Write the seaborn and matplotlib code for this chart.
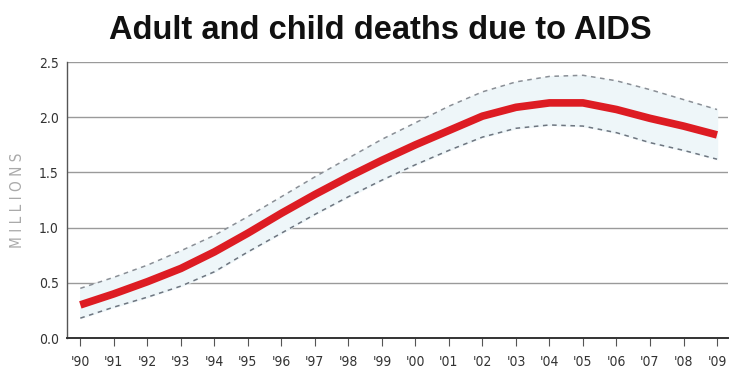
import matplotlib
matplotlib.use("Agg")
import matplotlib.pyplot as plt
import seaborn as sns
import pandas as pd
import numpy as np

years = ["'90", "'91", "'92", "'93", "'94", "'95", "'96", "'97", "'98", "'99",
         "'00", "'01", "'02", "'03", "'04", "'05", "'06", "'07", "'08", "'09"]
deaths = [0.30, 0.40, 0.51, 0.63, 0.78, 0.95, 1.13, 1.30, 1.46, 1.61,
          1.75, 1.88, 2.01, 2.09, 2.13, 2.13, 2.07, 1.99, 1.92, 1.84]
upper = [0.45, 0.55, 0.66, 0.79, 0.93, 1.10, 1.28, 1.46, 1.63, 1.80,
         1.95, 2.10, 2.23, 2.32, 2.37, 2.38, 2.33, 2.25, 2.16, 2.07]
lower = [0.18, 0.28, 0.37, 0.47, 0.60, 0.78, 0.95, 1.12, 1.28, 1.43,
         1.57, 1.70, 1.82, 1.90, 1.93, 1.92, 1.86, 1.77, 1.70, 1.62]
yticks = [0.0, 0.5, 1.0, 1.5, 2.0, 2.5]

sns.set_style("white")
plt.rcParams['font.family'] = ['DejaVu Sans']
plt.rcParams['font.stretch'] = 'condensed'

df = pd.DataFrame({"x": np.arange(len(years)), "deaths": deaths,
                   "upper": upper, "lower": lower})

fig = plt.figure(figsize=(7.31, 3.76), dpi=100)
ax = fig.add_axes([0.092, 0.101, 0.904, 0.734])

ax.fill_between(df["x"], df["lower"], df["upper"], color="#eef6f9", zorder=1)
for yv in yticks[1:]:
    ax.axhline(yv, color="#9a9a9a", lw=1.0, zorder=0)
sns.lineplot(data=df, x="x", y="upper", ax=ax, color="#8a8f96", lw=1.1,
             linestyle=(0, (3, 3)), zorder=2)
sns.lineplot(data=df, x="x", y="lower", ax=ax, color="#6e7680", lw=1.1,
             linestyle=(0, (3, 3)), zorder=2)
sns.lineplot(data=df, x="x", y="deaths", ax=ax, color="#dd1c23", lw=5.5,
             zorder=3, solid_capstyle="butt")

ax.set_xlim(-0.39, 19.33)
ax.set_ylim(0, 2.5)
ax.set_xticks(df["x"])
ax.set_xticklabels(years, fontsize=10, color="#333333", fontstretch='condensed')
ax.set_yticks(yticks)
ax.set_yticklabels([f"{v:.1f}" for v in yticks], fontsize=10, color="#333333",
                   fontstretch='condensed')
ax.tick_params(axis="x", direction="out", length=6, width=0.8, color="#555555", bottom=True, pad=6)
ax.tick_params(axis="y", length=0, pad=6)
for s in ["top", "right"]:
    ax.spines[s].set_visible(False)
ax.spines["left"].set_color("#555555")
ax.spines["bottom"].set_color("#333333")
ax.spines["left"].set_linewidth(1.0)
ax.spines["bottom"].set_linewidth(1.4)
ax.set_xlabel("")
ax.set_ylabel("M I L L I O N S", fontsize=11, color="#aaaaaa", labelpad=10)

fig.text(0.52, 0.92, "Adult and child deaths due to AIDS", ha="center", va="center",
         fontsize=23.5, fontweight="bold", color="#111111",
         family=['Liberation Sans', 'DejaVu Sans'], fontstretch='normal')

fig.savefig("out.png", dpi=100)
